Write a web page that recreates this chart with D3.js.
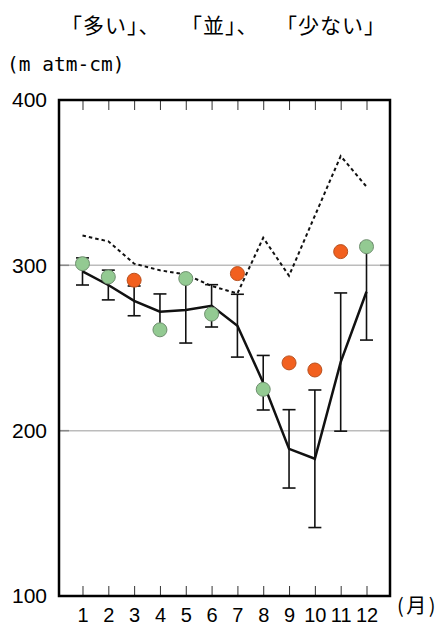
<!DOCTYPE html>
<html>
<head>
<meta charset="utf-8">
<script src="https://cdn.jsdelivr.net/npm/d3@7"></script>
<style>
  body { margin: 0; background: #fff; }
  svg { display: block; }
</style>
</head>
<body>
<svg id="chart" width="440" height="626"></svg>
<script>
// months on the x axis
const months = [1, 2, 3, 4, 5, 6, 7, 8, 9, 10, 11, 12];
// normal value (solid line) and its standard deviation (error bars)
const normalVals = [296.3, 288.1, 278.5, 272, 273, 275.5, 263.5, 229, 189, 183, 241.5, 284];
const sdVals = [8.2, 9, 9, 10.7, 20, 12.8, 19, 16.5, 23.7, 41.6, 41.8, 29.2];
// dotted line
const dottedVals = [318, 314.5, 301, 297, 294.5, 287.5, 283, 316.7, 293.7, 330, 366.1, 347.6];
// monthly observed values and their class
const obsVals = [301, 293, 291, 261, 292, 270.5, 295, 225, 241, 236.7, 308.3, 311.3];
const obsClass = ["並", "並", "多い", "並", "並", "並", "多い", "並", "多い", "多い", "多い", "並"];
const yTicks = [100, 200, 300, 400];
const gridVals = [200, 300];

const classColor = { "多い": "#f2601f", "並": "#93ca92" };
const classStroke = { "多い": "#b8501e", "並": "#6f8f6f" };

const svg = d3.select("#chart");
const plotL = 59, plotR = 390, plotT = 100, plotB = 596;

const x = d3.scalePoint().domain(months).range([plotL, plotR]).padding(0.91);
const y = d3.scaleLinear().domain([100, 400]).range([plotB, plotT]);

const numFont = "'Liberation Sans', Arial, sans-serif";
const jpFont = "'Noto Sans CJK JP', sans-serif";

// title row
const titles = [["「多い」、", 61], ["「並」、", 181], ["「少ない」", 276]];
svg.selectAll("text.title")
  .data(titles)
  .enter()
  .append("text")
  .attr("class", "title")
  .attr("x", (d) => d[1])
  .attr("y", 33)
  .attr("font-family", jpFont)
  .attr("font-size", 21)
  .attr("letter-spacing", 1)
  .text((d) => d[0]);

// unit label
svg.append("text")
  .attr("x", 7)
  .attr("y", 71)
  .attr("font-family", "'DejaVu Sans Mono', 'Liberation Mono', monospace")
  .attr("font-size", 19.5)
  .text("(m atm-cm)");

// grid lines
svg.selectAll("line.grid")
  .data(gridVals)
  .enter()
  .append("line")
  .attr("x1", plotL)
  .attr("x2", plotR)
  .attr("y1", (d) => y(d))
  .attr("y2", (d) => y(d))
  .attr("stroke", "#bcbcbc")
  .attr("stroke-width", 1.5);

// short ticks at grid lines, both sides
gridVals.forEach((v) => {
  [[plotL, plotL + 10], [plotR - 10, plotR]].forEach((p) => {
    svg.append("line")
      .attr("x1", p[0]).attr("x2", p[1])
      .attr("y1", y(v)).attr("y2", y(v))
      .attr("stroke", "#888")
      .attr("stroke-width", 1.5);
  });
});

// y axis labels
const yAxis = svg.append("g")
  .attr("transform", `translate(${plotL},0)`)
  .call(d3.axisLeft(y).tickValues(yTicks).tickSize(0).tickPadding(12));
yAxis.select(".domain").remove();
yAxis.selectAll("text")
  .attr("font-family", numFont)
  .attr("font-size", 21)
  .attr("fill", "#000");

// bottom axis with inside ticks
const xAxis = svg.append("g")
  .attr("transform", `translate(0,${plotB})`)
  .call(d3.axisBottom(x).tickSize(-10).tickPadding(12));
xAxis.select(".domain").remove();
xAxis.selectAll("line").attr("stroke", "#333").attr("stroke-width", 1);
xAxis.selectAll("text")
  .attr("font-family", numFont)
  .attr("font-size", 20)
  .attr("fill", "#000");

// top axis ticks
const xTop = svg.append("g")
  .attr("transform", `translate(0,${plotT})`)
  .call(d3.axisTop(x).tickSize(-10).tickFormat(""));
xTop.select(".domain").remove();
xTop.selectAll("line").attr("stroke", "#333").attr("stroke-width", 1);

// frame
svg.append("rect")
  .attr("x", plotL)
  .attr("y", plotT)
  .attr("width", plotR - plotL)
  .attr("height", plotB - plotT)
  .attr("fill", "none")
  .attr("stroke", "#000")
  .attr("stroke-width", 2.5);

// month unit
svg.append("text")
  .attr("x", 397)
  .attr("y", 613)
  .attr("font-family", jpFont)
  .attr("font-size", 20)
  .attr("letter-spacing", 2.5)
  .text("(月)");

// dotted line
const line = d3.line().x((d, i) => x(months[i])).y((d) => y(d));
svg.append("path")
  .datum(dottedVals)
  .attr("d", line)
  .attr("fill", "none")
  .attr("stroke", "#111")
  .attr("stroke-width", 2)
  .attr("stroke-dasharray", "3.5,3");

// error bars
const bars = svg.selectAll("g.err")
  .data(months)
  .enter()
  .append("g")
  .attr("class", "err")
  .attr("stroke", "#111")
  .attr("stroke-width", 1.6);
bars.append("line")
  .attr("x1", (d) => x(d)).attr("x2", (d) => x(d))
  .attr("y1", (d, i) => y(normalVals[i] + sdVals[i]))
  .attr("y2", (d, i) => y(normalVals[i] - sdVals[i]));
bars.append("line")
  .attr("x1", (d) => x(d) - 6.5).attr("x2", (d) => x(d) + 6.5)
  .attr("y1", (d, i) => y(normalVals[i] + sdVals[i]))
  .attr("y2", (d, i) => y(normalVals[i] + sdVals[i]));
bars.append("line")
  .attr("x1", (d) => x(d) - 6.5).attr("x2", (d) => x(d) + 6.5)
  .attr("y1", (d, i) => y(normalVals[i] - sdVals[i]))
  .attr("y2", (d, i) => y(normalVals[i] - sdVals[i]));

// normal line
svg.append("path")
  .datum(normalVals)
  .attr("d", line)
  .attr("fill", "none")
  .attr("stroke", "#111")
  .attr("stroke-width", 2.5);

// observed points
svg.selectAll("circle.obs")
  .data(obsVals)
  .enter()
  .append("circle")
  .attr("class", "obs")
  .attr("cx", (d, i) => x(months[i]))
  .attr("cy", (d) => y(d))
  .attr("r", 7)
  .attr("fill", (d, i) => classColor[obsClass[i]])
  .attr("stroke", (d, i) => classStroke[obsClass[i]])
  .attr("stroke-width", 1);
</script>
</body>
</html>
